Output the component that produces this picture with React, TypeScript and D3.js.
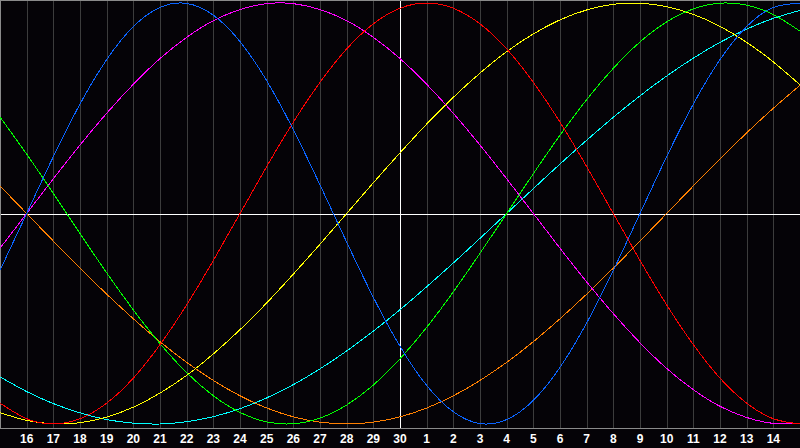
import React from "react";
import * as d3 from "d3";

// day labels along the bottom, one per grid line
const dayLabels = [
  "16", "17", "18", "19", "20", "21", "22", "23", "24", "25", "26", "27", "28", "29", "30",
  "1", "2", "3", "4", "5", "6", "7", "8", "9", "10", "11", "12", "13", "14",
];

// values read at each grid position (0..30), -1 = bottom, 1 = top
const physical = [
  -0.27, 0, 0.27, 0.52, 0.731, 0.888, 0.979, 0.998, 0.942, 0.817, 0.631, 0.398, 0.136,
  -0.136, -0.398, -0.631, -0.817, -0.942, -0.998, -0.979, -0.888, -0.731, -0.52, -0.27,
  0, 0.27, 0.52, 0.731, 0.888, 0.979, 0.998,
];
const emotional = [
  -0.901, -0.975, -1, -0.975, -0.901, -0.782, -0.623, -0.434, -0.223, 0, 0.223, 0.434,
  0.623, 0.782, 0.901, 0.975, 1, 0.975, 0.901, 0.782, 0.623, 0.434, 0.223, 0, -0.223,
  -0.434, -0.623, -0.782, -0.901, -0.975, -1,
];
const intellectual = [
  0.458, 0.282, 0.095, -0.095, -0.282, -0.458, -0.618, -0.756, -0.866, -0.945, -0.99,
  -0.999, -0.972, -0.91, -0.815, -0.69, -0.541, -0.372, -0.189, 0, 0.189, 0.372, 0.541,
  0.69, 0.815, 0.91, 0.972, 0.999, 0.99, 0.945, 0.866,
];
const intuitive = [
  -0.165, 0, 0.165, 0.325, 0.476, 0.614, 0.736, 0.837, 0.916, 0.969, 0.997, 0.997, 0.969,
  0.916, 0.837, 0.736, 0.614, 0.476, 0.325, 0.165, 0, -0.165, -0.325, -0.476, -0.614,
  -0.736, -0.837, -0.916, -0.969, -0.997, -0.997,
];
const aesthetic = [
  -0.946, -0.983, -0.999, -0.994, -0.967, -0.92, -0.853, -0.769, -0.667, -0.552, -0.425,
  -0.288, -0.146, 0, 0.146, 0.288, 0.425, 0.552, 0.667, 0.769, 0.853, 0.92, 0.967, 0.994,
  0.999, 0.983, 0.946, 0.889, 0.813, 0.72, 0.611,
];
const awareness = [
  0.131, 0, -0.131, -0.259, -0.383, -0.5, -0.609, -0.707, -0.793, -0.866, -0.924, -0.966,
  -0.991, -1, -0.991, -0.966, -0.924, -0.866, -0.793, -0.707, -0.609, -0.5, -0.383,
  -0.259, -0.131, 0, 0.131, 0.259, 0.383, 0.5, 0.609,
];
const spiritual = [
  -0.776, -0.846, -0.903, -0.947, -0.979, -0.996, -1, -0.989, -0.965, -0.927, -0.876,
  -0.813, -0.738, -0.653, -0.559, -0.457, -0.348, -0.235, -0.118, 0, 0.118, 0.235, 0.348,
  0.457, 0.559, 0.653, 0.738, 0.813, 0.876, 0.927, 0.965,
];

const series = [
  { name: "spiritual", values: spiritual, color: "#00ffff" },
  { name: "awareness", values: awareness, color: "#ff8000" },
  { name: "aesthetic", values: aesthetic, color: "#ffff00" },
  { name: "intuitive", values: intuitive, color: "#ff00ff" },
  { name: "intellectual", values: intellectual, color: "#00ff00" },
  { name: "emotional", values: emotional, color: "#ff0000" },
  { name: "physical", values: physical, color: "#0a64ff" },
];

const W = 800;
const H = 448;
const plotBottom = 428;
const todayIndex = 15;

export default function App() {
  const x = d3.scaleLinear().domain([0, 30]).range([0, W]);
  const y = d3.scaleLinear().domain([-1, 1]).range([424, 3]);

  const line = d3
    .line<number>()
    .x((_, i) => x(i))
    .y((d) => y(d))
    .curve(d3.curveNatural);

  const midY = Math.round(y(0)) + 0.5;

  return (
    <div style={{ position: "fixed", left: 0, top: 0 }}>
      <svg width={W} height={H} style={{ display: "block", background: "#050307" }}>
        {/* day grid */}
        {dayLabels.map((d, i) => {
          const gx = Math.round(x(i + 1)) + 0.5;
          return (
            <line
              key={"g" + i}
              x1={gx}
              x2={gx}
              y1={0}
              y2={plotBottom}
              stroke={i + 1 === todayIndex ? "#ffffff" : "#3c3c3c"}
              strokeWidth={1}
              shapeRendering="crispEdges"
            />
          );
        })}
        {/* zero line */}
        <line x1={0} x2={W} y1={midY} y2={midY} stroke="#ffffff" shapeRendering="crispEdges" />

        {/* frame */}
        <line x1={0.5} x2={0.5} y1={0} y2={plotBottom} stroke="#8a8a8a" shapeRendering="crispEdges" />
        <line x1={0} x2={W} y1={0.5} y2={0.5} stroke="#8a8a8a" shapeRendering="crispEdges" />
        <line x1={0} x2={W} y1={plotBottom + 0.5} y2={plotBottom + 0.5} stroke="#8a8a8a" shapeRendering="crispEdges" />

        {series.map((s) => (
          <path
            key={s.name}
            d={line(s.values) || ""}
            fill="none"
            stroke={s.color}
            strokeWidth={1}
            shapeRendering="crispEdges"
          />
        ))}

        {dayLabels.map((d, i) => (
          <text
            key={"t" + i}
            x={x(i + 1)}
            y={443}
            textAnchor="middle"
            fill="#ffffff"
            fontFamily="Liberation Sans, Arial, sans-serif"
            fontWeight="bold"
            fontSize={12}
          >
            {d}
          </text>
        ))}
      </svg>
    </div>
  );
}
